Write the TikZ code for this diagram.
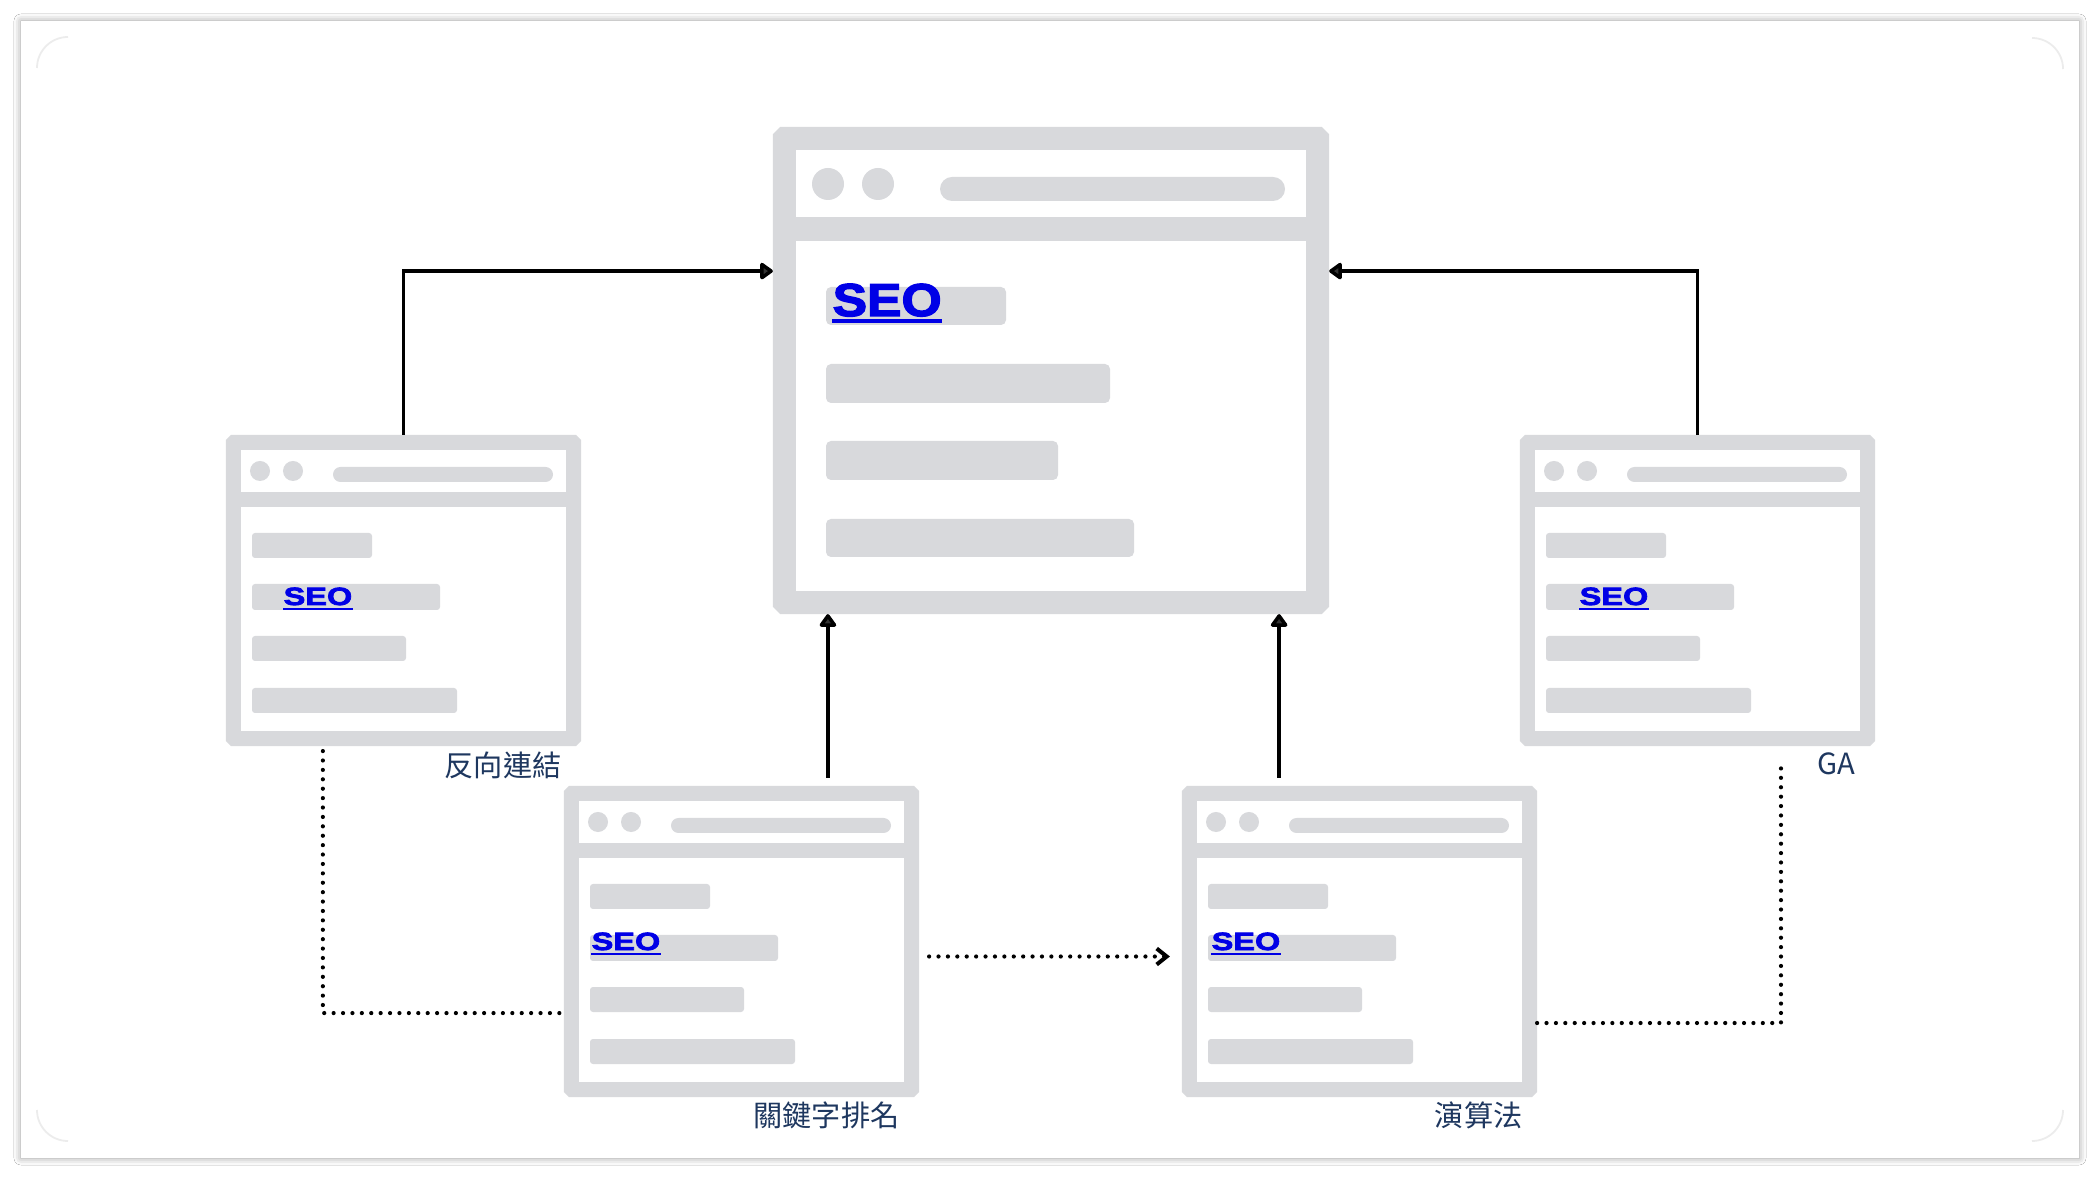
\documentclass[tikz,border=0pt]{standalone}
\usepackage{fontspec}
\usepackage{xcolor}
\usepackage{tikz}
\usetikzlibrary{arrows.meta,positioning,calc,shadows.blur}

\newfontfamily\cjkfont{Noto Sans CJK TC}
\newfontfamily\seofont[FakeStretch=1.12,FakeBold=3]{Liberation Sans}
\newfontfamily\seofontwide[FakeStretch=1.3,FakeBold=3]{Liberation Sans}

\definecolor{webgray}{RGB}{216,217,220}
\definecolor{seoblue}{RGB}{0,0,230}
\definecolor{tagnavy}{RGB}{30,55,95}

\begin{document}
\begin{tikzpicture}[
  x=0.01cm, y=-0.01cm,
  webframe/.style={rectangle, draw=webgray, fill=white, inner sep=0pt, rounded corners=0.2pt},
  bar/.style={fill=webgray, rounded corners=0.03cm},
  tag/.style={inner sep=0pt, text=tagnavy, font=\cjkfont\fontsize{8.3pt}{10pt}\selectfont},
  seo/.style={inner sep=0pt, text=seoblue, anchor=base west},
  link/.style={-{Triangle[length=0.14cm,width=0.19cm,round]}, line width=0.035cm},
  dotline/.style={line width=0.042cm, line cap=round, dash pattern=on 0pt off 0.094cm},
  dotarrow/.style={-{Straight Barb[length=0.1cm,width=0.16cm,line width=0.04cm]}},
  pics/miniweb/.style 2 args={code={
    \node[webframe, line width=0.15cm, minimum width=3.40cm, minimum height=2.96cm] (-frame) at (177.5,155.5) {};
    \fill[webgray] (10,57) rectangle (345,72);
    \fill[webgray] (34,36) circle (0.1cm) (67,36) circle (0.1cm);
    \fill[webgray, rounded corners=0.075cm] (107,32) rectangle (327,47);
    \fill[bar] (26,98) rectangle (146,123);
    \fill[bar] (26,149) rectangle (214,175);
    \fill[bar] (26,201) rectangle (180,226);
    \fill[bar] (26,253) rectangle (231,278);
    \node[seo, font=\seofontwide\bfseries\fontsize{7.1pt}{8pt}\selectfont] (-seo) at (#1,#2) {SEO};
    \draw[seoblue, line width=0.7pt] ([yshift=-0.04cm]-seo.base west) -- ([yshift=-0.04cm]-seo.base east);
  }}
]
  \useasboundingbox (0,0) rectangle (2100,1180);
  \fill[white] (0,0) rectangle (2100,1180);

  % Card
  \fill[white, blur shadow={shadow xshift=0pt, shadow yshift=0pt, shadow blur radius=0.07cm, shadow opacity=40}] (21,21) rectangle (2079,1158);
  \draw[gray!15, line width=0.5pt] (37,68) arc[start angle=180, end angle=90, radius=0.31cm];
  \draw[gray!15, line width=0.5pt] (2032,38) arc[start angle=90, end angle=0, radius=0.31cm];
  \draw[gray!15, line width=0.5pt] (37,1110) arc[start angle=180, end angle=270, radius=0.31cm];
  \draw[gray!15, line width=0.5pt] (2063,1110) arc[start angle=0, end angle=-90, radius=0.31cm];

  % Main page
  \node[webframe, line width=0.23cm, minimum width=5.33cm, minimum height=4.64cm] (main) at (1051,370.5) {};
  \fill[webgray] (785,217) rectangle (1317,241);
  \fill[webgray] (828,184) circle (0.16cm) (878,184) circle (0.16cm);
  \fill[webgray, rounded corners=0.12cm] (940,177) rectangle (1285,201);
  \fill[bar, rounded corners=0.05cm] (826,287) rectangle (1006,325);
  \fill[bar, rounded corners=0.05cm] (826,364) rectangle (1110,403);
  \fill[bar, rounded corners=0.05cm] (826,441) rectangle (1058,480);
  \fill[bar, rounded corners=0.05cm] (826,519) rectangle (1134,557);
  \node[seo, font=\seofont\bfseries\fontsize{13.1pt}{15pt}\selectfont] (mainseo) at (832,316) {SEO};
  \draw[seoblue, line width=1.2pt] ([yshift=-0.05cm]mainseo.base west) -- ([yshift=-0.05cm]mainseo.base east);

  % Small pages
  \pic (backlink) at (226,435) {miniweb={57}{170}};
  \pic (analytics) at (1520,435) {miniweb={59}{170}};
  \pic (keyword) at (564,786) {miniweb={27}{164}};
  \pic (algo) at (1182,786) {miniweb={29}{164}};

  % Labels
  \node[tag, below left=0.05cm and 0.19cm of backlink-frame.south east] (backlinktag) {反向連結};
  \node[tag, below left=0.06cm and 0.19cm of analytics-frame.south east] (analyticstag) {GA};
  \node[tag, below left=0.04cm and 0.19cm of keyword-frame.south east] (keywordtag) {關鍵字排名};
  \node[tag, below left=0.04cm and 0.14cm of algo-frame.south east] (algotag) {演算法};

  % Solid links into the main page
  \coordinate (kwhit) at ($(main.south west)!0.099!(main.south east)$);
  \coordinate (algohit) at ($(main.south west)!0.91!(main.south east)$);
  \draw[link] (backlink-frame.north) |- ($(main.north west)!0.296!(main.south west)$);
  \draw[link] (analytics-frame.north) |- ($(main.north east)!0.296!(main.south east)$);
  \draw[link, shorten <=0.08cm] (keyword-frame.north -| kwhit) -- (kwhit);
  \draw[link, shorten <=0.08cm] (algo-frame.north -| algohit) -- (algohit);

  % Dotted links
  \coordinate (kwleft) at ($(keyword-frame.north west)!0.73!(keyword-frame.south west)$);
  \draw[dotline, shorten <=0.05cm] ($(backlink-frame.south west)!0.273!(backlink-frame.south east)$) |- (kwleft);
  \draw[dotline, dotarrow, shorten <=0.1cm, shorten >=0.12cm] ([yshift=-0.15cm]keyword-frame.east) -- ([yshift=-0.15cm]algo-frame.west);
  \draw[dotline, shorten >=0.14cm] ($(algo-frame.north east)!0.762!(algo-frame.south east)$) -| ($(analytics-frame.south west)!0.735!(analytics-frame.south east)$);
\end{tikzpicture}
\end{document}
